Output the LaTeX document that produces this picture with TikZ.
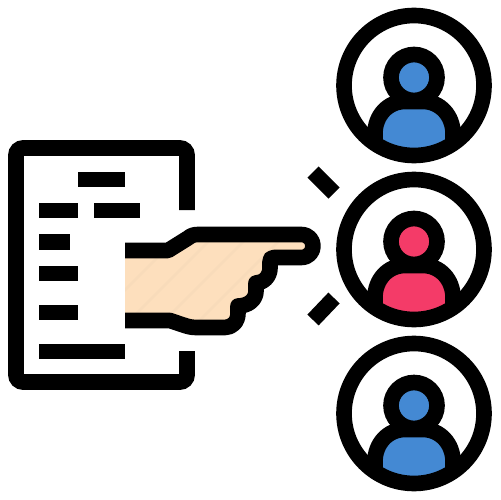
\documentclass[tikz,border=0pt]{standalone}
\definecolor{skin}{HTML}{FDDFBD}
\definecolor{skinline}{HTML}{F8DBBA}
\definecolor{userblue}{HTML}{4489D3}
\definecolor{userred}{HTML}{F43B68}
\def\handpath{(125,250.5) -- (168,250.5) -- (188,238)
  .. controls (191,235.5) and (194,234.5) .. (198,234.5) -- (301,234.5)
  .. controls (317,234.5) and (317,257.5) .. (301,257.5) -- (274,257.5)
  .. controls (271,257.5) and (270,259) .. (270,262) -- (270,268)
  .. controls (270,277) and (263,283) .. (256,283) -- (256,291)
  .. controls (256,300) and (248,306) .. (238,306) -- (238,313)
  .. controls (238,322) and (232,327.5) .. (225,327.5)
  -- (196,327.5) .. controls (190,327.5) and (186,326) .. (170,320.5) -- (125,320.5)}
\begin{document}
\begin{tikzpicture}[
  x=0.02cm, y=-0.02cm,
  ink/.style={line width=8.9pt, black},
  bar/.style={fill=black, draw=none},
]
\useasboundingbox (0,0) rectangle (500,500);

% Document sheet, open where the hand goes through
\draw[ink, rounded corners=4pt] (187,210) -- (187,148) -- (16,148) -- (16,382) -- (187,382) -- (187,351);

% Text lines on the sheet
\fill[bar] (78,172) rectangle (125,187);
\fill[bar] (39,203) rectangle (78,218);
\fill[bar] (94,203) rectangle (140,218);
\fill[bar] (39,234) rectangle (70,250);
\fill[bar] (39,266) rectangle (78,281);
\fill[bar] (39,305) rectangle (78,320);
\fill[bar] (39,344) rectangle (125,359);

% Pointing hand
\fill[skin] \handpath;
\begin{scope}
  \clip \handpath;
  \foreach \sx in {140,175,...,385} {
    \draw[skinline, line width=1.5pt] (\sx,240) -- (\sx-90,330);
  }
\end{scope}
\draw[ink, line join=round] \handpath;

% Marks either side of the fingertip
\draw[ink] (313,172) -- (334,193);
\draw[ink] (313,320) -- (334,298);

% Three users
\foreach \cy/\col in {85.5/userblue, 249.5/userred, 413.5/userblue} {
  \begin{scope}[shift={(414,\cy)}]
    \begin{scope}
      \clip (0,0) circle (1.4cm);
      \draw[ink, fill=\col] (-39,80) -- (-39,48)
        .. controls (-39,30) and (-26,16) .. (-9,16) -- (9,16)
        .. controls (26,16) and (39,30) .. (39,48) -- (39,80) -- cycle;
    \end{scope}
    \draw[ink, fill=\col] (0,-8) circle (0.46cm);
    \draw[ink] (0,0) circle (1.4cm);
  \end{scope}
}
\end{tikzpicture}
\end{document}
